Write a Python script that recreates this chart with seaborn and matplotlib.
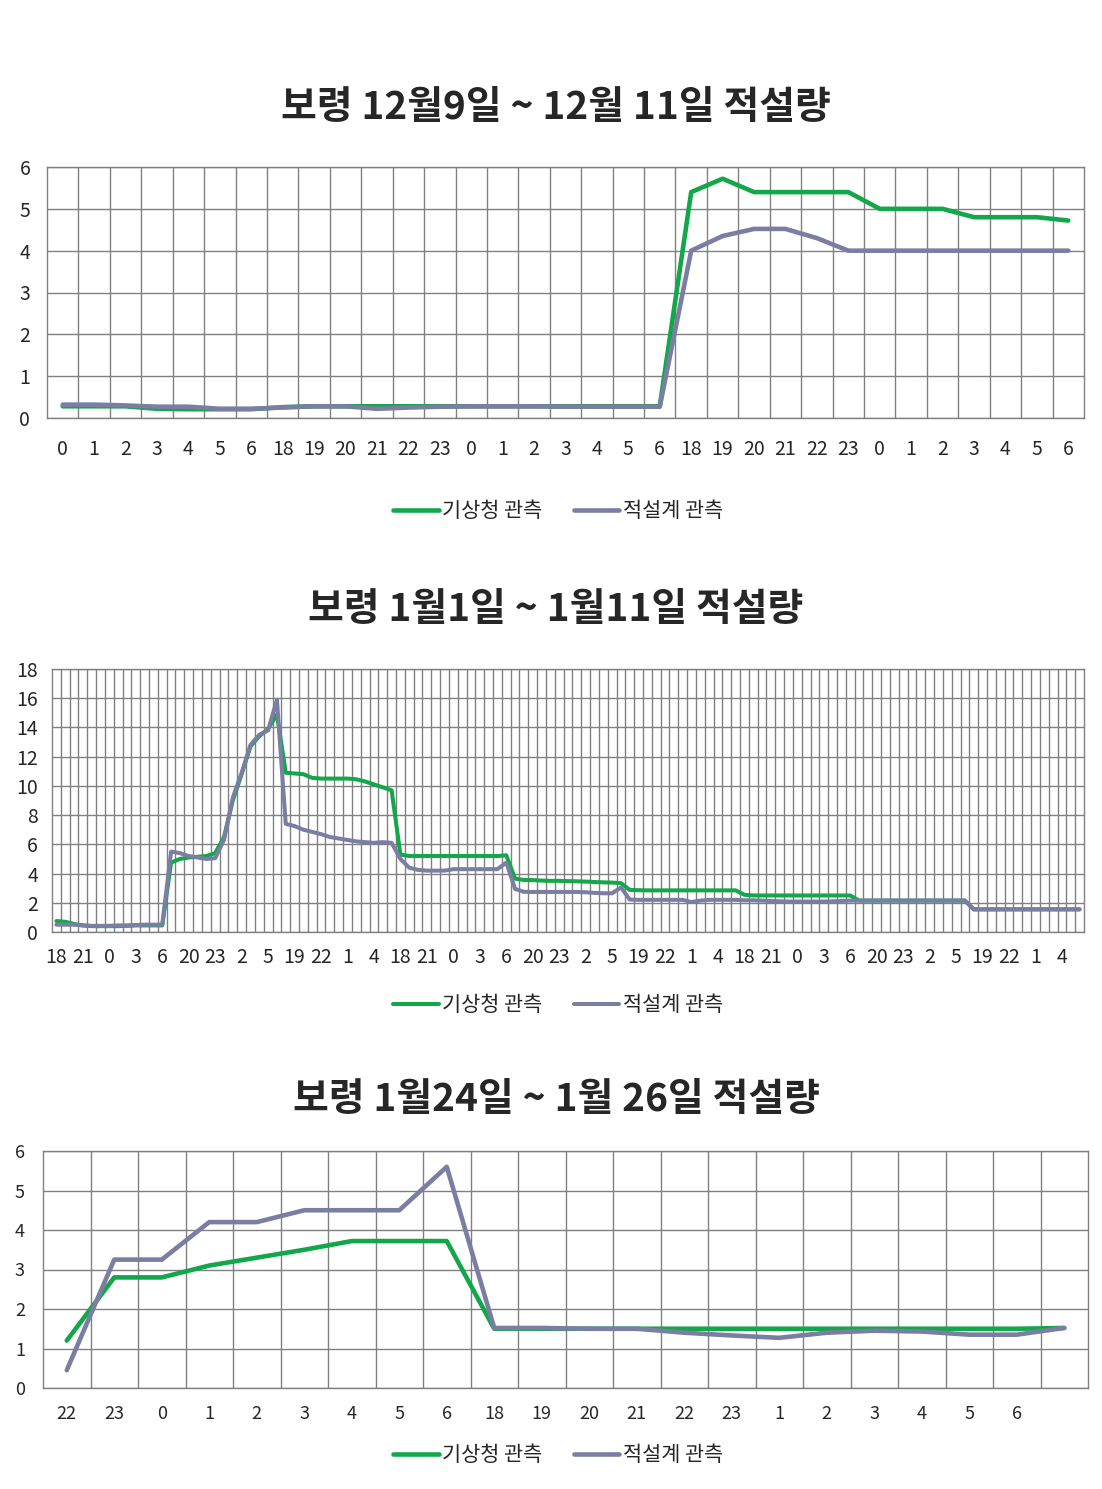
import pandas as pd
import matplotlib.pyplot as plt
import seaborn as sns

# ---- data ----
series_names = ['기상청 관측', '적설계 관측']
line_colors = ['#12a84a', '#7a7ea3']

# 보령 12월9일 ~ 12월 11일
ch1_hours = ['0', '1', '2', '3', '4', '5', '6', '18', '19', '20', '21', '22', '23',
             '0', '1', '2', '3', '4', '5', '6', '18', '19', '20', '21', '22', '23',
             '0', '1', '2', '3', '4', '5', '6']
ch1_kma = [0.28, 0.28, 0.28, 0.22, 0.21, 0.21, 0.21, 0.26, 0.28, 0.28, 0.28, 0.28, 0.28,
           0.28, 0.28, 0.28, 0.28, 0.28, 0.28, 0.28, 5.4, 5.72, 5.4, 5.4, 5.4, 5.4,
           5.0, 5.0, 5.0, 4.8, 4.8, 4.8, 4.72]
ch1_gauge = [0.32, 0.32, 0.3, 0.27, 0.27, 0.22, 0.22, 0.25, 0.28, 0.28, 0.22, 0.25, 0.27,
             0.28, 0.28, 0.28, 0.27, 0.27, 0.27, 0.27, 4.0, 4.35, 4.52, 4.52, 4.3, 4.0,
             4.0, 4.0, 4.0, 4.0, 4.0, 4.0, 4.0]

# 보령 1월1일 ~ 1월11일 (9 nights, 18시 ~ 6시)
night_hours = ['18', '19', '20', '21', '22', '23', '0', '1', '2', '3', '4', '5', '6']
ch2_hours = night_hours * 9
ch2_kma = [0.75, 0.7, 0.55, 0.45, 0.4, 0.4, 0.4, 0.4, 0.42, 0.45, 0.45, 0.45, 0.45,
           4.75, 5.0, 5.1, 5.15, 5.2, 5.4, 6.5, 9.0, 10.8, 12.7, 13.4, 13.9, 14.9,
           10.9, 10.85, 10.8, 10.55, 10.5, 10.5, 10.5, 10.5, 10.45, 10.3, 10.1, 9.9, 9.7,
           5.3, 5.2, 5.2, 5.2, 5.2, 5.2, 5.2, 5.2, 5.2, 5.2, 5.2, 5.2, 5.25,
           3.65, 3.56, 3.55, 3.52, 3.5, 3.5, 3.48, 3.47, 3.45, 3.42, 3.4, 3.38, 3.35,
           2.88, 2.86, 2.85, 2.85, 2.85, 2.85, 2.85, 2.85, 2.85, 2.85, 2.85, 2.85, 2.85,
           2.55, 2.5, 2.5, 2.5, 2.5, 2.5, 2.5, 2.5, 2.5, 2.5, 2.5, 2.5, 2.5,
           2.15, 2.15, 2.15, 2.15, 2.15, 2.15, 2.15, 2.15, 2.15, 2.15, 2.15, 2.15, 2.15,
           1.55, 1.55, 1.55, 1.55, 1.55, 1.55, 1.55, 1.55, 1.55, 1.55, 1.55, 1.55, 1.55]
ch2_gauge = [0.5, 0.5, 0.5, 0.45, 0.42, 0.42, 0.42, 0.45, 0.45, 0.48, 0.5, 0.5, 0.5,
             5.5, 5.4, 5.2, 5.1, 5.0, 5.05, 6.3, 9.2, 10.9, 12.8, 13.5, 13.8, 15.9,
             7.4, 7.25, 7.0, 6.85, 6.7, 6.5, 6.4, 6.3, 6.2, 6.15, 6.1, 6.15, 6.1,
             5.0, 4.4, 4.25, 4.2, 4.2, 4.2, 4.3, 4.3, 4.3, 4.3, 4.3, 4.3, 4.75,
             2.95, 2.75, 2.74, 2.74, 2.74, 2.74, 2.74, 2.74, 2.72, 2.68, 2.65, 2.65, 3.05,
             2.22, 2.2, 2.2, 2.2, 2.2, 2.2, 2.2, 2.05, 2.15, 2.2, 2.2, 2.2, 2.2,
             2.17, 2.17, 2.15, 2.12, 2.1, 2.08, 2.08, 2.08, 2.08, 2.08, 2.1, 2.12, 2.15,
             2.15, 2.15, 2.15, 2.15, 2.15, 2.15, 2.15, 2.15, 2.15, 2.15, 2.15, 2.15, 2.15,
             1.55, 1.55, 1.55, 1.55, 1.55, 1.55, 1.55, 1.55, 1.55, 1.55, 1.55, 1.55, 1.55]

# 보령 1월24일 ~ 1월 26일
ch3_hours = ['22', '23', '0', '1', '2', '3', '4', '5', '6', '18', '19',
             '20', '21', '22', '23', '1', '2', '3', '4', '5', '6', '']
ch3_kma = [1.2, 2.8, 2.8, 3.1, 3.3, 3.5, 3.72, 3.72, 3.72, 1.5, 1.5,
           1.5, 1.5, 1.5, 1.5, 1.5, 1.5, 1.5, 1.5, 1.5, 1.5, 1.52]
ch3_gauge = [0.45, 3.25, 3.25, 4.2, 4.2, 4.5, 4.5, 4.5, 5.6, 1.52, 1.52,
             1.5, 1.5, 1.4, 1.33, 1.27, 1.4, 1.45, 1.43, 1.35, 1.35, 1.52]

titles = ['보령 12월9일 ~ 12월 11일 적설량',
          '보령 1월1일 ~ 1월11일 적설량',
          '보령 1월24일 ~ 1월 26일 적설량']

sns.set_style("white")
plt.rcParams['font.family'] = ['Noto Sans CJK KR', 'DejaVu Sans']

W, H = 1102, 1489
fig = plt.figure(figsize=(W / 100, H / 100), dpi=100)
grid_c = '#808080'


def px_axes(left, top, right, bottom):
    return fig.add_axes([left / W, 1 - bottom / H, (right - left) / W, (bottom - top) / H])


def draw(ax, hours, kma, gauge, ymax, ystep, label_every, lw, xfs, yfs, xpad, ypad):
    n = len(hours)
    df = pd.DataFrame({
        'x': list(range(n)) * 2,
        'value': kma + gauge,
        'series': [series_names[0]] * n + [series_names[1]] * n,
    })
    sns.lineplot(data=df, x='x', y='value', hue='series', hue_order=series_names,
                 palette=line_colors, linewidth=lw, ax=ax, legend=True)
    ax.set_xlim(-0.5, n - 0.5)
    ax.set_ylim(0, ymax)
    ax.set_yticks(range(0, ymax + 1, ystep))
    ax.set_xticks(range(0, n, label_every))
    ax.set_xticklabels(hours[::label_every], fontsize=xfs)
    ax.set_xticks([i - 0.5 for i in range(1, n)], minor=True)
    ax.tick_params(axis='y', labelsize=yfs, length=0, pad=ypad)
    ax.tick_params(axis='x', which='both', length=0, pad=xpad)
    ax.grid(True, axis='y', which='major', color=grid_c, linewidth=1.0)
    ax.grid(True, axis='x', which='minor', color=grid_c, linewidth=1.0)
    ax.grid(False, axis='x', which='major')
    ax.set_axisbelow(True)
    for s in ax.spines.values():
        s.set_color(grid_c)
        s.set_linewidth(1.0)
    ax.set_xlabel('')
    ax.set_ylabel('')
    handles, labels = ax.get_legend_handles_labels()
    ax.legend_.remove()
    return handles, labels


def add_title_legend(text, ty, h, l, ly):
    fig.text(556 / W, 1 - ty / H, text, ha='center', va='center', fontsize=28, fontweight='black')
    fig.legend(h, l, loc='center', bbox_to_anchor=(558 / W, 1 - ly / H), ncol=2, frameon=False,
               fontsize=15, handlelength=2.2, handletextpad=0.15, columnspacing=1.5)


ax1 = px_axes(47, 167, 1084, 418)
h, l = draw(ax1, ch1_hours, ch1_kma, ch1_gauge, 6, 1, 1, 3.3, 14, 14, 15, 12)
add_title_legend(titles[0], 108, h, l, 511)

ax2 = px_axes(52, 669, 1084, 932)
h, l = draw(ax2, ch2_hours, ch2_kma, ch2_gauge, 18, 2, 3, 2.9, 14, 14, 11, 10)
add_title_legend(titles[1], 610, h, l, 1005)

ax3 = px_axes(43, 1151, 1088, 1388)
h, l = draw(ax3, ch3_hours, ch3_kma, ch3_gauge, 6, 1, 1, 3.3, 13, 13, 12, 13)
add_title_legend(titles[2], 1099, h, l, 1455)

fig.savefig('out.png', dpi=100)
